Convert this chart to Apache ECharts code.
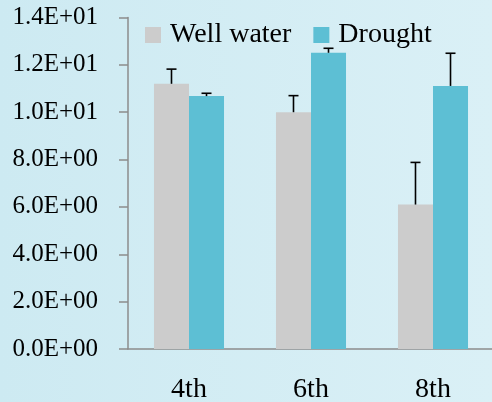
<!DOCTYPE html>
<html><head><meta charset="utf-8">
<script src="https://cdn.jsdelivr.net/npm/echarts@6/dist/echarts.min.js"></script>
<style>html,body{margin:0;padding:0;}#c{width:492px;height:402px;background:linear-gradient(to right,#cdeaf2,#daf0f6);}</style>
</head><body><div id="c"></div>
<script>
const categories = ['4th', '6th', '8th'];
const wellWater = [11.2, 10.0, 6.1];
const wellWaterErr = [0.62, 0.7, 1.78];
const drought = [10.68, 12.51, 11.11];
const droughtErr = [0.12, 0.19, 1.38];
const yTicks = [0, 2, 4, 6, 8, 10, 12, 14];

const chart = echarts.init(document.getElementById('c'));
const FONT = 'Liberation Serif';
const BARFRAC = 0.287;
function errSeries(vals, errs, side){
  return {
    type: 'custom', silent: true, z: 5,
    data: vals.map((v,i)=>[i, v, v+errs[i]]),
    renderItem: function(params, api){
      const bw = api.size([1,0])[0];
      const p0 = api.coord([api.value(0), api.value(1)]);
      const p1 = api.coord([api.value(0), api.value(2)]);
      const x = p0[0] + side*bw*BARFRAC/2;
      const st = {stroke:'#000', lineWidth:1.6};
      return {type:'group', children:[
        {type:'line', shape:{x1:x,y1:p0[1],x2:x,y2:p1[1]}, style:st},
        {type:'line', shape:{x1:x-5,y1:p1[1],x2:x+5,y2:p1[1]}, style:st}
      ]};
    }
  };
}
chart.setOption({
  backgroundColor: 'transparent',
  animation: false,
  grid: {left: 128, top: 17.5, bottom: 53, right: -2, outerBoundsMode: 'none', containLabel: false},
  legend: {
    left: 145, top: 21, padding: 0, itemWidth: 16, itemHeight: 16, itemGap: 22, icon: 'rect',
    data: ['Well water', 'Drought'],
    textStyle: {fontFamily: FONT, fontSize: 28, color: '#000', padding: [0,0,0,4]}
  },
  xAxis: {
    type: 'category', data: categories,
    axisLine: {lineStyle: {color: '#8c8c8c', width: 1.5}},
    axisTick: {length: 9, lineStyle: {color: '#8c8c8c', width: 1.5}},
    axisLabel: {fontFamily: FONT, fontSize: 28, color: '#000', margin: 27}
  },
  yAxis: {
    type: 'value', min: 0, max: 14, interval: 2,
    splitLine: {show: false},
    axisLine: {show: true, lineStyle: {color: '#8c8c8c', width: 1.5}},
    axisTick: {show: true, length: 9, lineStyle: {color: '#8c8c8c', width: 1.5}},
    axisLabel: {fontFamily: FONT, fontSize: 25, color: '#000', margin: 30,
      formatter: v => yTicks.includes(v) ? v.toExponential(1).replace('e','E').replace(/E([+-])(\d)$/, 'E$10$2') : ''}
  },
  series: [
    {name: 'Well water', type: 'bar', data: wellWater, barWidth: (BARFRAC*100)+'%', barGap: '0%', itemStyle: {color: '#cccccc'}},
    {name: 'Drought', type: 'bar', data: drought, barWidth: (BARFRAC*100)+'%', barGap: '0%', itemStyle: {color: '#5dbfd4'}},
    errSeries(wellWater, wellWaterErr, -1),
    errSeries(drought, droughtErr, 1)
  ]
});
</script></body></html>
